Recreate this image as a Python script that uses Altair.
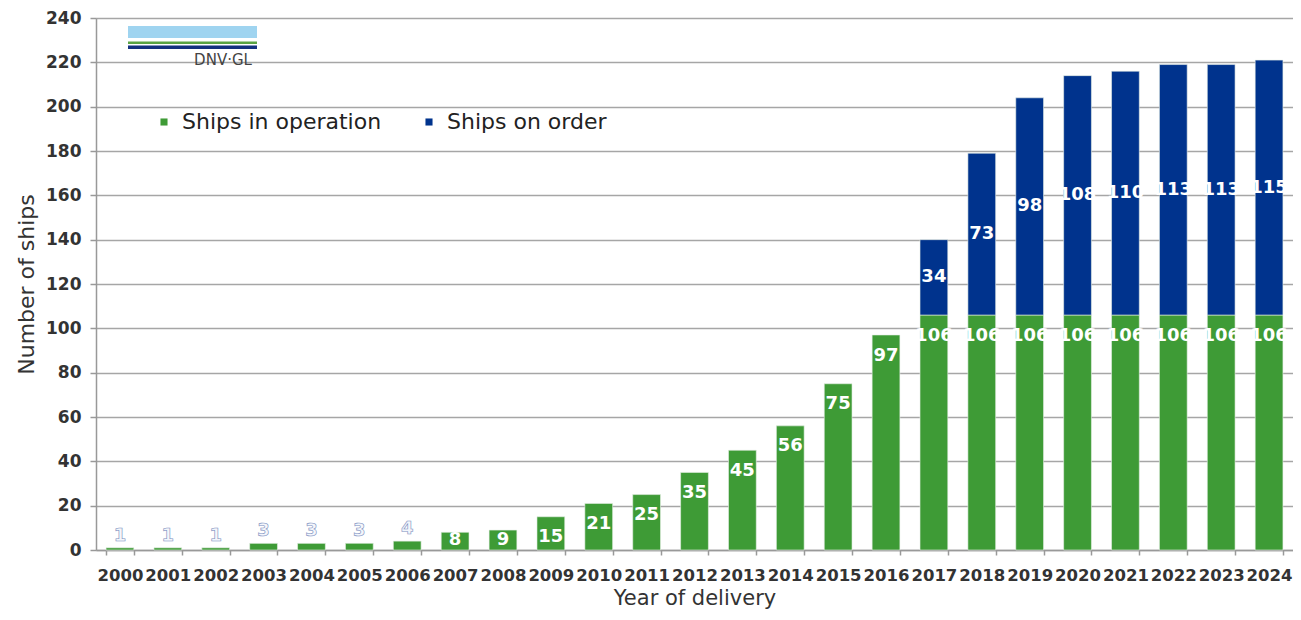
import altair as alt
import pandas as pd

years = ["2000", "2001", "2002", "2003", "2004", "2005", "2006", "2007", "2008",
         "2009", "2010", "2011", "2012", "2013", "2014", "2015", "2016", "2017",
         "2018", "2019", "2020", "2021", "2022", "2023", "2024"]
in_operation = [1, 1, 1, 3, 3, 3, 4, 8, 9, 15, 21, 25, 35, 45, 56, 75, 97,
                106, 106, 106, 106, 106, 106, 106, 106]
on_order = [0, 0, 0, 0, 0, 0, 0, 0, 0, 0, 0, 0, 0, 0, 0, 0, 0,
            34, 73, 98, 108, 110, 113, 113, 115]
series_names = ["Ships in operation", "Ships on order"]
series_colors = ["#3e9b36", "#00338d"]

rows = []
for y, a, b in zip(years, in_operation, on_order):
    rows.append({"year": y, "series": series_names[0], "start": 0, "end": a, "v": a})
    if b > 0:
        rows.append({"year": y, "series": series_names[1], "start": a, "end": a + b, "v": b})
df = pd.DataFrame(rows)

FONT = "DejaVu Sans"
W, H = 1197, 532

x_enc = alt.X("year:N", sort=years, title="Year of delivery",
              scale=alt.Scale(paddingInner=0.42, paddingOuter=0.21),
              axis=alt.Axis(labelAngle=0, labelFont=FONT, labelFontSize=16.5,
                            labelFontWeight="bold", labelColor="#333333",
                            labelOverlap=False, labelBound=False,
                            tickBand="extent", tickSize=5, tickColor="#999999",
                            tickWidth=1.5, domainColor="#999999", domainWidth=1.5,
                            labelPadding=12, titleFont=FONT, titleFontSize=21,
                            titleFontWeight="normal", titleColor="#333333",
                            titlePadding=4, grid=False))

y_scale = alt.Scale(domain=[0, 240], nice=False)

bars = alt.Chart(df).mark_bar(stroke="#e8f0e8", strokeWidth=0.6).encode(
    x=x_enc,
    y=alt.Y("end:Q", scale=y_scale, title="Number of ships",
            axis=alt.Axis(values=list(range(0, 241, 20)), labelFont=FONT,
                          labelFontSize=17, labelFontWeight="bold",
                          labelColor="#333333", tickSize=6, tickColor="#999999",
                          tickWidth=1.5, domainColor="#999999", domainWidth=1.5,
                          labelPadding=9, gridColor="#a6a6a6", gridWidth=1.5,
                          titleFont=FONT, titleFontSize=22,
                          titleFontWeight="normal", titleColor="#333333",
                          titlePadding=7)),
    y2="start:Q",
    color=alt.Color("series:N", scale=alt.Scale(domain=series_names, range=series_colors),
                    legend=alt.Legend(title=None, orient="none", direction="horizontal",
                                      legendX=57, legendY=93, symbolType="square",
                                      symbolSize=50, symbolStrokeWidth=0,
                                      labelFont=FONT, labelFontSize=22, labelLimit=0,
                                      labelColor="#222222", columnPadding=36,
                                      symbolOffset=0, labelOffset=7, padding=0)),
)

green_labels = alt.Chart(df).transform_filter(
    alt.datum.series == series_names[0]
).transform_calculate(
    ly="datum.v >= 8 ? max(datum.v - 9.3, 4.5) : datum.v + 5.5"
).mark_text(font=FONT, fontSize=18, fontWeight="bold", baseline="middle").encode(
    x=alt.X("year:N", sort=years),
    y=alt.Y("ly:Q", scale=y_scale),
    text="v:Q",
    color=alt.condition(alt.datum.v < 8, alt.value("#f4f6fb"), alt.value("#ffffff")),
    stroke=alt.condition(alt.datum.v < 8, alt.value("#7b8fc0"), alt.value("transparent")),
    strokeWidth=alt.value(0.6),
)

blue_labels = alt.Chart(df).transform_filter(
    alt.datum.series == series_names[1]
).transform_calculate(
    ly="(datum.start + datum.end) / 2"
).mark_text(font=FONT, fontSize=18, fontWeight="bold", baseline="middle",
            color="#ffffff").encode(
    x=alt.X("year:N", sort=years),
    y=alt.Y("ly:Q", scale=y_scale),
    text="v:Q",
)

logo_data = alt.Data(values=[{"k": 1}])
logo_blue = alt.Chart(logo_data).mark_rect(color="#9fd4f0").encode(
    x=alt.value(32), x2=alt.value(161), y=alt.value(8), y2=alt.value(20))
logo_green = alt.Chart(logo_data).mark_rect(color="#5aa342").encode(
    x=alt.value(32), x2=alt.value(161), y=alt.value(23.5), y2=alt.value(26))
logo_navy = alt.Chart(logo_data).mark_rect(color="#13307f").encode(
    x=alt.value(32), x2=alt.value(161), y=alt.value(27.5), y2=alt.value(31))
logo_text = alt.Chart(logo_data).mark_text(
    text="DNV·GL", font=FONT, fontSize=15, color="#444444", align="center",
    baseline="middle").encode(x=alt.value(127), y=alt.value(42))

chart = alt.layer(bars, green_labels, blue_labels, logo_blue, logo_green, logo_navy,
                  logo_text).properties(
    width=W, height=H,
    autosize=alt.AutoSizeParams(type="none"),
    padding={"left": 88, "top": 10, "right": 0, "bottom": 62},
).configure_view(stroke=None).configure(background="white")

chart.save("out.html", embed_options={"renderer": "svg", "actions": False})
